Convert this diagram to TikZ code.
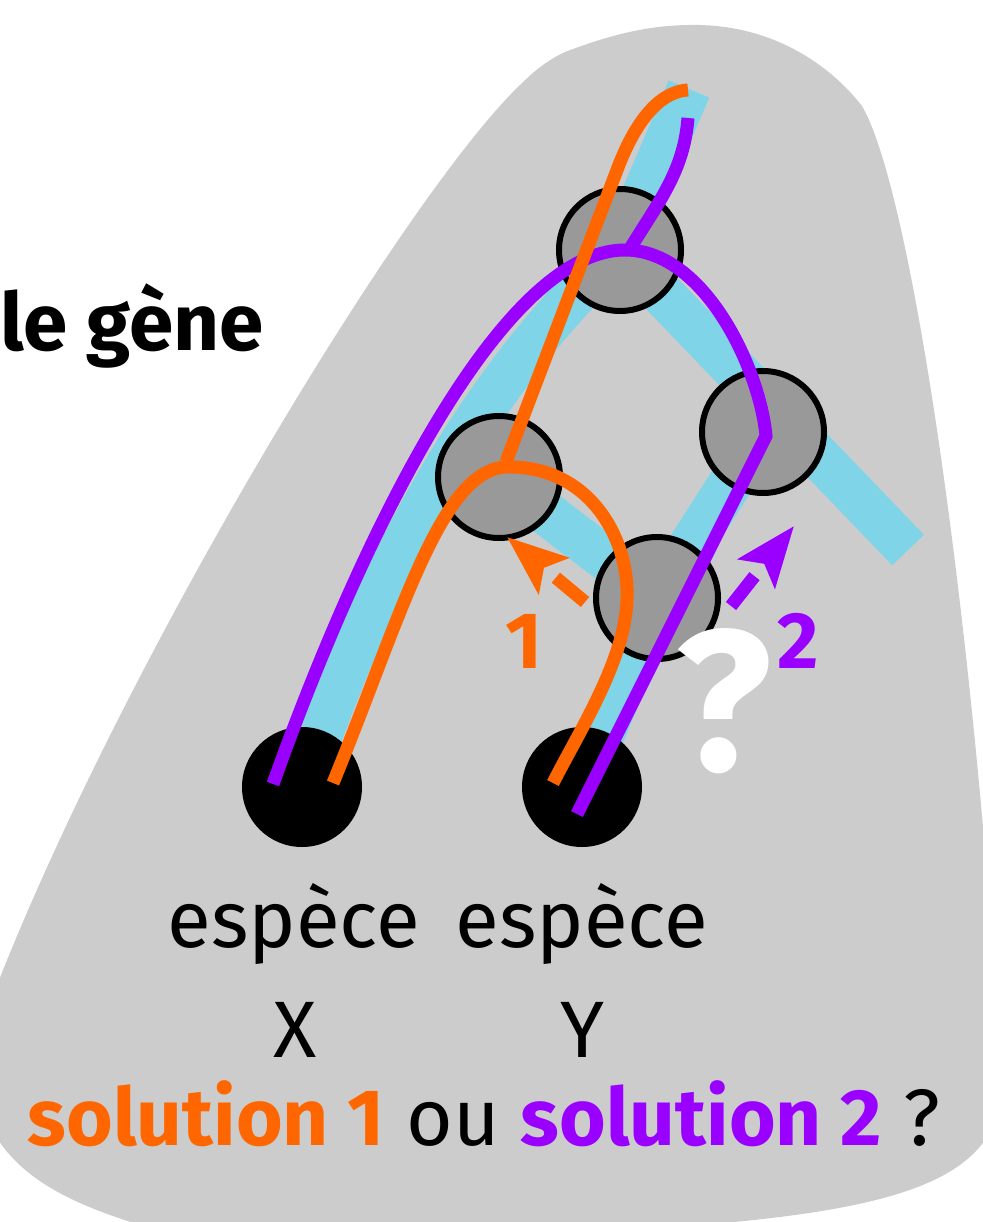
\documentclass[tikz,border=0pt]{standalone}
\usepackage{fontspec}
\setmainfont{Fira Sans}
\usepackage{xcolor}
\usepackage{tikz}
\usetikzlibrary{
	arrows.meta,backgrounds
}

\definecolor{fond}{HTML}{CCCCCC}
\definecolor{bande}{HTML}{80D4E8}
\definecolor{noeud}{HTML}{999999}
\definecolor{solA}{HTML}{FF6600}
\definecolor{solB}{HTML}{9900FF}

\tikzset{
	gene/.style={circle,fill=noeud,draw=black,line width=6pt,minimum size=122pt,inner sep=0pt},
	feuille/.style={circle,fill=black,minimum size=120pt,inner sep=0pt},
	espece/.style={draw=bande,line width=44pt},
	lignee/.style={line width=13pt},
	grand/.style={font=\fontsize{80}{96}\selectfont},
	gras/.style={font=\fontsize{80}{96}\selectfont\bfseries},
	fleche/.style={lignee,dash pattern=on 38pt off 30pt,-{Stealth[length=60pt,width=46pt,inset=12pt]}}
}

\begin{document}
\begin{tikzpicture}[x=1pt,y=-1pt]
		\useasboundingbox (0,0) rectangle (982,1222);
		\clip (0,0) rectangle (982,1222);
		%
		\node[feuille] (X) at (302,787) {};
		\node[feuille] (Y) at (582,787) {};
		\node[gene] (R) at (620,250) {};
		\node[gene] (A) at (499,477) {};
		\node[gene] (D) at (763,432) {};
		\node[gene] (C) at (657,598) {};
		\coordinate (Rh) at (689,89);
		\coordinate (Zb) at (908,550);
		%
		\begin{scope}[on background layer]
			\fill[fond] (520,85) .. controls (535,70) and (548,60) .. (565,52)
				.. controls (610,35) and (650,24) .. (700,25)
				.. controls (775,27) and (830,65) .. (862,106)
				.. controls (905,180) and (955,500) .. (985,850)
				-- (985,1140) .. controls (950,1190) and (860,1212) .. (700,1225)
				-- (700,1240) -- (140,1240) -- (140,1225)
				.. controls (60,1200) and (0,1170) .. (-20,1100)
				-- (-20,1030) .. controls (100,700) and (400,200) .. cycle;
			\path[espece] (Rh) -- (R.center)
				(X.center) .. controls (380,560) and (480,380) .. (R.center)
				(R.center) -- (Zb)
				(A.center) -- (C.center)
				(C.center) -- (Y.center)
				(C.center) -- (D.center);
		\end{scope}
		%
		\coordinate (oH) at (688,90);
		\coordinate (oA) at (506,462);
		\coordinate (oX) at (333,783);
		\coordinate (oY) at (553,783);
		\coordinate (pH) at (688,118);
		\coordinate (pX) at (273,784);
		\coordinate (pY) at (577,814);
		%
		\draw[lignee,solB] (pX) .. controls (360,540) and (500,250) .. (625,250)
			.. controls (705,250) and (760,370) .. (766,436) -- (pY);
		\draw[lignee,solB] (pH) .. controls (684,170) and (660,200) .. (631,247);
		\draw[lignee,solA] (oH) .. controls (655,92) and (632,130) .. (617,170) -- (oA);
		\draw[lignee,solA] (oX) .. controls (400,620) and (440,470) .. (506,467)
			.. controls (590,465) and (630,540) .. (627,600)
			.. controls (625,660) and (580,730) .. (oY);
		%
		\coordinate (a1) at (585,602);
		\coordinate (a1t) at (507,537);
		\coordinate (a2) at (731,606);
		\coordinate (a2t) at (794,526);
		\draw[fleche,solA] (a1) -- (a1t);
		\draw[fleche,solB] (a2) -- (a2t);
		%
		\node[gras,solA,anchor=base] (n1) at (524,668) {1};
		\node[gras,solB,anchor=base] (n2) at (798,668) {2};
		\node[font=\fontsize{200}{200}\selectfont\bfseries,white,anchor=base] (q) at (724,770) {?};
		%
		\node[font=\fontsize{80}{96}\selectfont\bfseries,anchor=base west,inner sep=0pt] (titre) at (0,350) {le gène};
		\node[grand,anchor=base] (eX) at (294,947) {espèce};
		\node[grand,anchor=base] (nX) at (295,1057) {X};
		\node[grand,anchor=base] (eY) at (582,947) {espèce};
		\node[grand,anchor=base] (nY) at (582,1057) {Y};
		\node[grand,anchor=base] (sol) at (484,1145) {\textbf{\color{solA}solution 1} ou \textbf{\color{solB}solution 2} ?};
\end{tikzpicture}
\end{document}
